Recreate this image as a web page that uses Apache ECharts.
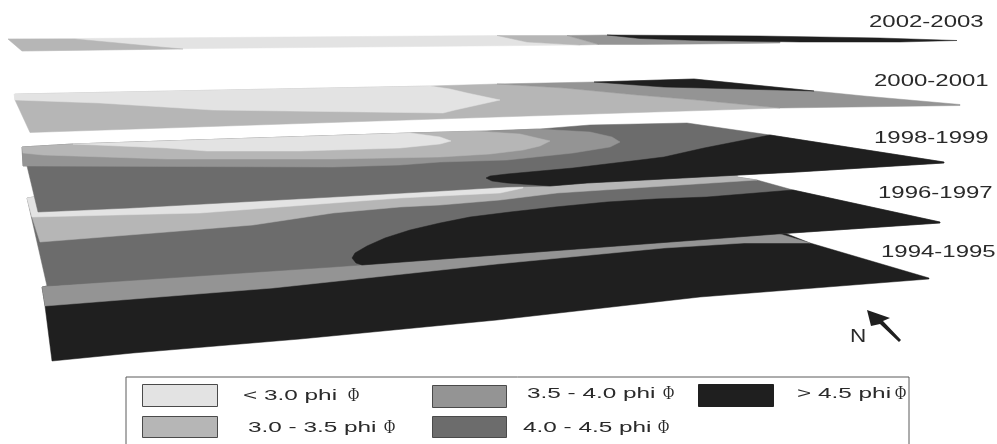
<!DOCTYPE html>
<html><head><meta charset="utf-8">
<style>html,body{margin:0;padding:0;background:#fff}#c{width:997px;height:444px}</style>
<script src="https://cdn.jsdelivr.net/npm/echarts@6/dist/echarts.min.js"></script>
</head><body><div id="c"></div>
<script>
// Classes and periods
const classNames = ['< 3.0 phi', '3.0 - 3.5 phi', '3.5 - 4.0 phi', '4.0 - 4.5 phi', '> 4.5 phi'];
const periods = ['1994-1995', '1996-1997', '1998-1999', '2000-2001', '2002-2003'];

// Zone outlines, [x, y] in image-plane units
const z1994black = [[42,287],[47,286],[777,230],[810,243],[929,278],[929,279],[700,297],[497,320],[300,339],[133,353],[52,361],[45,306]];
const z1994mid = [[42,287],[47,286],[777,230],[780,234],[810,243],[764,243],[744,243],[664,248],[497,264],[273,288],[45,306]];

const z1996dark = [[27,198],[40,196],[737,170],[737,177],[757,180],[793,190],[940,222],[940,223],[777,234],[497,255],[333,267],[47,286]];
const z1996pale = [[27,198],[40,196],[737,170],[737,177],[757,180],[557,193],[500,200],[440,205],[400,207],[333,213],[253,225],[167,232],[40,242],[32,217]];
const z1996light = [[27,198],[40,196],[523,180],[523,188],[500,193],[400,198],[333,203],[200,213],[32,217]];
const z1996black = [[793,190],[940,222],[940,223],[777,234],[497,255],[362,265],[356,263],[352,258],[355,253],[367,246],[385,238],[410,230],[440,223],[470,217],[510,212],[555,207],[607,202],[655,199],[707,197]];

const z1998dark = [[22,147],[73,144],[410,133],[487,131],[540,129],[590,125],[687,123],[770,135],[944,162],[944,163],[797,172],[587,183],[550,186],[507,187],[440,191],[333,197],[130,208],[38,212],[27,166],[23,166]];
const z1998mid = [[22,147],[73,144],[410,133],[487,131],[537,129],[590,132],[612,137],[620,142],[610,147],[573,153],[507,160],[440,162],[400,165],[333,167],[23,166]];
const z1998pale = [[22,147],[73,144],[410,133],[473,131],[520,134],[550,141],[540,146],[523,150],[490,154],[440,157],[333,159],[167,159],[43,155],[23,153]];
const z1998light = [[73,144],[410,133],[440,137],[451,141],[440,144],[400,148],[300,151],[207,151],[167,148]];
const z1998black = [[486,178],[490,176],[507,174],[573,168],[640,160],[664,157],[704,148],[770,135],[944,162],[944,163],[797,172],[587,183],[550,186],[507,183],[492,181]];

const z2000pale = [[15,94],[430,86],[497,84],[564,88],[637,95],[697,100],[780,108],[497,117],[30,132.5],[15,100]];
const z2000mid = [[497,84],[594,82],[694,79],[814,91],[864,96],[960,104.5],[960,105.5],[780,108],[697,100],[637,95],[564,88]];
const z2000light = [[14,94],[430,86],[450,89],[467,93],[500,100],[455,110],[443,113],[213,110],[100,103],[15,100]];
const z2000black = [[594,82],[694,79],[814,91],[704,88],[664,87]];

const z2002light = [[8,39],[75,38.5],[500,35.5],[527,42],[580,45],[200,48.5],[22,51]];
const z2002paleW = [[8,39],[75,39],[160,47],[183,49],[22,51]];
const z2002paleE = [[497,35.5],[567,35.5],[599,44.5],[580,45],[527,42]];
const z2002mid = [[567,35.5],[610,35],[643,37],[700,39.5],[780,41],[780,43],[700,44],[640,44.5],[599,44.5]];
const z2002black = [[607,35],[760,36],[880,38],[957,40.5],[900,42],[800,42],[700,40.5],[640,38.5]];

const northArrow = [[867,310],[890,318],[883,321],[901,340],[899,342],[880,324],[871,326]];

// Colours by class
const classColors = ['#e3e3e3', '#b6b6b6', '#949494', '#6c6c6c', '#1f1f1f'];
const K = {light:0, pale:1, mid:2, dark:3, black:4};

const plates = [
  [[z1994black,K.black],[z1994mid,K.mid]],
  [[z1996dark,K.dark],[z1996pale,K.pale],[z1996light,K.light],[z1996black,K.black]],
  [[z1998dark,K.dark],[z1998mid,K.mid],[z1998pale,K.pale],[z1998light,K.light],[z1998black,K.black]],
  [[z2000pale,K.pale],[z2000mid,K.mid],[z2000light,K.light],[z2000black,K.black]],
  [[z2002light,K.light],[z2002paleW,K.pale],[z2002paleE,K.pale],[z2002mid,K.mid],[z2002black,K.black]]
];

const plateSeries = plates.map((layers, p) => ({
  type: 'custom', name: periods[p], coordinateSystem: 'cartesian2d', z: 2 + p, clip: false, silent: true,
  data: layers.map(l => [l[0][0][0], l[0][0][1], l[1]]),
  renderItem: (params, api) => {
    const layer = layers[params.dataIndex];
    return { type: 'polygon', shape: { points: layer[0].map(pt => api.coord(pt)) },
      style: { fill: classColors[layer[1]], stroke: classColors[layer[1]], lineWidth: 0.5 } };
  }
}));

const SANS = '"Liberation Sans", Arial, sans-serif';
// y is the text baseline; the element is anchored at its top edge
function stretched(x, baseline, text, size, sx, fill) {
  return { type: 'text', x, y: baseline - size * 0.78, scaleX: sx, scaleY: 1,
    style: { text, x: 0, y: 0, font: size + 'px ' + SANS, fill, textBaseline: 'top', textAlign: 'left' } };
}

// Period labels, baseline placement
const labelPos = [[881,257],[878,198],[874,143],[874,86],[869,27]];
const annotationChildren = () => {
  const out = periods.map((t, i) => stretched(labelPos[i][0], labelPos[i][1], t, 17, 1.41, '#2a2a2a'));
  out.push(stretched(850, 342, 'N', 18, 1.25, '#2a2a2a'));
  return out;
};

// Legend placement: [swatch x, swatch y, swatch w, swatch h, text x, baseline y, phi x]
const legendPos = [
  [142,384,75,22,243,400,348],
  [142,416,75,21,248,432,384],
  [432,385,74,22,527,398,663],
  [432,416,74,21,523,432,658],
  [698,384,75,22,797,398,895]
];

const annotationSeries = {
  type: 'custom', name: 'annotations', coordinateSystem: 'cartesian2d', z: 10, clip: false, silent: true,
  data: [[0,0]],
  renderItem: (params, api) => {
    const children = annotationChildren();
    children.push({ type: 'polygon', shape: { points: northArrow.map(pt => api.coord(pt)) }, style: { fill: '#1f1f1f' } });
    children.push({ type: 'polyline', shape: { points: [[126,444],[126,377],[909,377],[909,444]] },
      style: { fill: null, stroke: '#5a5a5a', lineWidth: 1 } });
    classNames.forEach((name, i) => {
      const q = legendPos[i];
      children.push({ type: 'rect', shape: { x: q[0] + 0.5, y: q[1] + 0.5, width: q[2], height: q[3] },
        style: { fill: classColors[i], stroke: i === 4 ? '#1f1f1f' : '#4a4a4a', lineWidth: 1 } });
      children.push(stretched(q[4], q[5], name, 15.5, 1.57, '#2a2a2a'));
      children.push({ type: 'text', x: q[6], y: q[5] + 2 - 15, scaleX: 0.85, scaleY: 1,
        style: { text: '\u03A6', font: '18px "Liberation Serif", serif', fill: '#2a2a2a', textBaseline: 'top' } });
    });
    return { type: 'group', children };
  }
};

const chart = echarts.init(document.getElementById('c'), null, { renderer: 'canvas', width: 997, height: 444 });
chart.setOption({
  animation: false,
  backgroundColor: '#ffffff',
  grid: { left: 0, right: 0, top: 0, bottom: 0 },
  xAxis: { type: 'value', min: 0, max: 997, show: false },
  yAxis: { type: 'value', min: 0, max: 444, inverse: true, show: false },
  series: [...plateSeries, annotationSeries]
});
</script></body></html>
